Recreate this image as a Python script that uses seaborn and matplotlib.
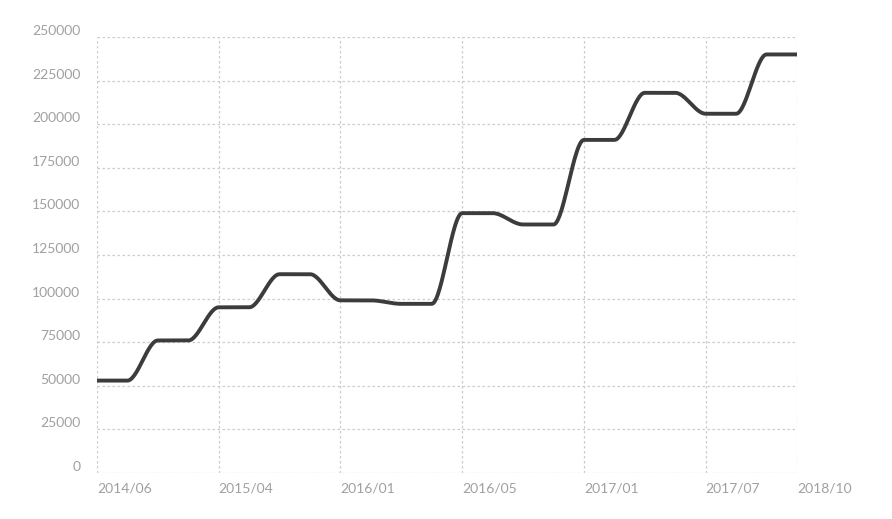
import numpy as np
import pandas as pd
import matplotlib
matplotlib.use('Agg')
import matplotlib.pyplot as plt
import seaborn as sns

# Data (24 evenly spaced periods)
values = [53000, 53000, 76000, 76000, 95000, 95000, 114000, 114000,
          99000, 99000, 97000, 97000, 149000, 149000, 142500, 142500,
          191000, 191000, 218000, 218000, 206000, 206000, 240000, 240000]
tickIdx = [0, 4, 8, 12, 16, 20, 23]
tickLabels = ['2014/06', '2015/04', '2016/01', '2016/05', '2017/01', '2017/07', '2018/10']
yTicks = list(range(0, 250001, 25000))

GRID = '#cccccc'
TEXT = '#a0a0a0'
LINE = '#3c3c3c'


## Helper function
def monotoneSmooth(y: np.ndarray, steps=30):
    ''' Monotone cubic (Fritsch-Carlson) rendering of the line, like a "smooth" series '''
    y = np.asarray(y, dtype=float)
    x = np.arange(len(y), dtype=float)
    d = np.diff(y)
    m = np.zeros_like(y)
    m[0], m[-1] = d[0], d[-1]
    for i in range(1, len(y) - 1):
        if d[i - 1] * d[i] <= 0:
            m[i] = 0
        else:
            m[i] = 2 / (1 / d[i - 1] + 1 / d[i])
    xs, ys = [], []
    for i in range(len(y) - 1):
        t = np.linspace(0, 1, steps, endpoint=False)
        h00 = 2 * t**3 - 3 * t**2 + 1
        h10 = t**3 - 2 * t**2 + t
        h01 = -2 * t**3 + 3 * t**2
        h11 = t**3 - t**2
        xs.append(x[i] + t)
        ys.append(h00 * y[i] + h10 * m[i] + h01 * y[i + 1] + h11 * m[i + 1])
    xs.append([x[-1]])
    ys.append([y[-1]])
    return np.concatenate(xs), np.concatenate(ys)


sns.set_style('white')
plt.rcParams['font.family'] = ['Lato', 'DejaVu Sans']

fig = plt.figure(figsize=(8.92, 5.19), dpi=100)
ax = fig.add_axes([0.1087, 0.0886, 0.7848, 0.8401])

xs, ys = monotoneSmooth(values)
curve = pd.DataFrame({'period': xs, 'value': ys})
sns.lineplot(data=curve, x='period', y='value', ax=ax, color=LINE,
             linewidth=2.8, solid_capstyle='butt', zorder=3)

ax.set_xlim(0, len(values) - 1)
ax.set_ylim(0, 250000)
ax.set_xticks(tickIdx)
ax.set_xticklabels(tickLabels)
ax.set_yticks(yTicks)
ax.set_yticklabels([str(v) for v in yTicks])
ax.set_xlabel('')
ax.set_ylabel('')

for spine in ('top', 'bottom', 'left', 'right'):
    ax.spines[spine].set_visible(False)

ax.grid(True, color=GRID, linestyle=(0, (2, 2)), linewidth=0.9)
ax.tick_params(axis='both', length=0, labelcolor=TEXT, labelsize=10)
ax.tick_params(axis='x', pad=7)
ax.tick_params(axis='y', pad=12)
plt.setp(ax.get_xticklabels(), ha='left')
plt.setp(ax.get_yticklabels(), va='bottom')

fig.savefig('out.png', dpi=100)
